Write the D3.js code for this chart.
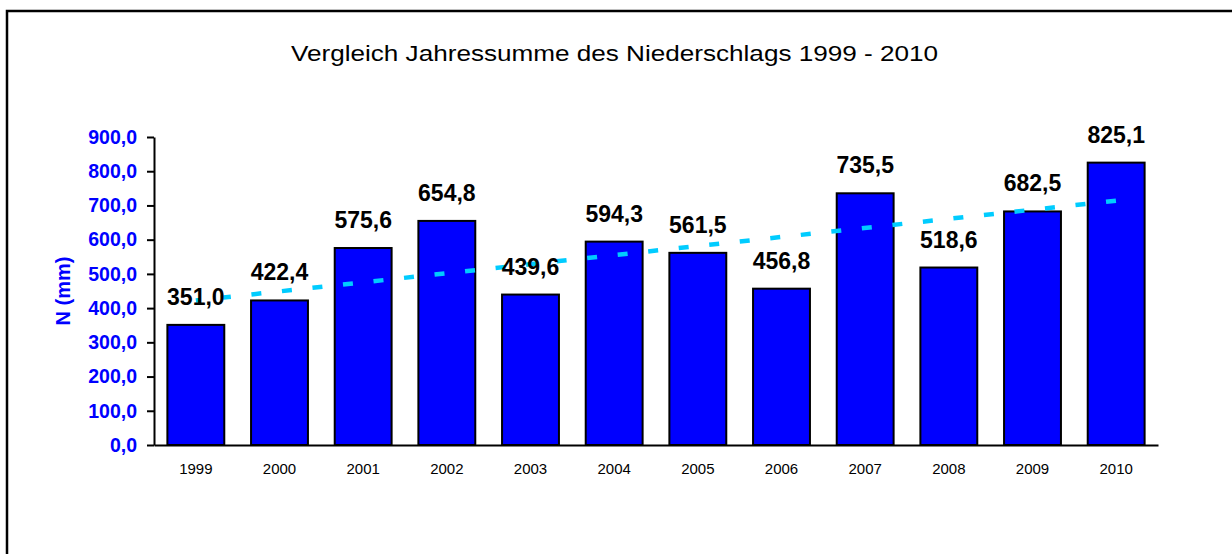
<!DOCTYPE html>
<html>
<head>
<meta charset="utf-8">
<script src="https://cdn.jsdelivr.net/npm/d3@7"></script>
<style>
	body { margin: 0; background: white; }
	svg { display: block; font-family: "Liberation Sans", Arial, sans-serif; }
</style>
</head>
<body>
<div id="chartDiv"></div>
<script>
const w = 1232
const h = 554

// Data
const years = ["1999", "2000", "2001", "2002", "2003", "2004", "2005", "2006", "2007", "2008", "2009", "2010"]
const rainfall = [351.0, 422.4, 575.6, 654.8, 439.6, 594.3, 561.5, 456.8, 735.5, 518.6, 682.5, 825.1]
const yTicks = [0, 100, 200, 300, 400, 500, 600, 700, 800, 900]
const title = "Vergleich Jahressumme des Niederschlags 1999 - 2010"
const yLabel = "N (mm)"

const plot = { left: 154, right: 1158, top: 137, bottom: 445 }
const fmt = v => v.toFixed(1).replace(".", ",")

let svg = d3.select("#chartDiv")
	.append("svg")
	.attr("width", w)
	.attr("height", h)

// outer frame (right and bottom edge lie outside the window)
svg.append("rect")
	.attr("x", 7)
	.attr("y", 11)
	.attr("width", w + 20)
	.attr("height", h + 20)
	.attr("fill", "white")
	.attr("stroke", "black")
	.attr("stroke-width", 2.5)

svg.append("text")
	.attr("x", 614.5)
	.attr("y", 61)
	.attr("text-anchor", "middle")
	.attr("font-size", 22.5)
	.attr("textLength", 647)
	.attr("lengthAdjust", "spacingAndGlyphs")
	.text(title)

let xScale = d3.scaleBand()
	.domain(years)
	.range([plot.left, plot.right])
	.paddingInner(0.32)
	.paddingOuter(0.16)

let yScale = d3.scaleLinear()
	.domain([0, 900])
	.range([plot.bottom, plot.top])

// y axis
let yAxis = d3.axisLeft(yScale)
	.tickValues(yTicks)
	.tickSize(7)
	.tickSizeOuter(0)
	.tickPadding(10)
	.tickFormat(fmt)

let yg = svg.append("g")
	.attr("transform", "translate(" + plot.left + ", 0)")
	.call(yAxis)

yg.select(".domain").attr("stroke-width", 2).attr("stroke", "black")
yg.selectAll(".tick line").attr("stroke-width", 2).attr("stroke", "black")
yg.selectAll(".tick text")
	.attr("font-family", "'Liberation Sans', Arial, sans-serif")
	.attr("font-size", 19.5)
	.attr("font-weight", "bold")
	.attr("fill", "#0000ff")

svg.append("text")
	.attr("transform", "translate(70, " + ((plot.top + plot.bottom) / 2) + ") rotate(-90)")
	.attr("text-anchor", "middle")
	.attr("font-size", 20)
	.attr("font-weight", "bold")
	.attr("fill", "#0000ff")
	.text(yLabel)

// bars
let data = years.map((y, i) => ({ year: y, value: rainfall[i] }))

svg.selectAll("rect.bar")
	.data(data)
	.enter()
	.append("rect")
	.attr("class", "bar")
	.attr("x", d => xScale(d.year))
	.attr("y", d => yScale(d.value))
	.attr("width", xScale.bandwidth())
	.attr("height", d => yScale(0) - yScale(d.value))
	.attr("fill", "#0000ff")
	.attr("stroke", "black")
	.attr("stroke-width", 2)

// x axis
let xAxis = d3.axisBottom(xScale)
	.tickSize(0)
	.tickSizeOuter(0)
	.tickPadding(18)

let xg = svg.append("g")
	.attr("transform", "translate(0, " + plot.bottom + ")")
	.call(xAxis)

xg.select(".domain").attr("stroke-width", 2).attr("stroke", "black")
xg.selectAll(".tick text")
	.attr("font-family", "'Liberation Sans', Arial, sans-serif")
	.attr("font-size", 15)
	.attr("fill", "black")

// linear trend line
let n = rainfall.length
let mx = (n - 1) / 2
let my = d3.mean(rainfall)
let slope = d3.sum(rainfall, (v, i) => (i - mx) * (v - my)) / d3.sum(rainfall, (v, i) => (i - mx) * (i - mx))
let trend = years.map((y, i) => ({ year: y, value: my + slope * (i - mx) }))
let trendEnds = [trend[0], trend[n - 1]]

let line = d3.line()
	.x(d => xScale(d.year) + xScale.bandwidth() / 2)
	.y(d => yScale(d.value))

svg.append("path")
	.datum(trendEnds)
	.attr("d", line)
	.attr("fill", "none")
	.attr("stroke", "#00ccff")
	.attr("stroke-width", 4.5)
	.attr("stroke-dasharray", "10,20.7")
	.attr("stroke-dashoffset", 5.5)

// value labels
svg.selectAll("text.value")
	.data(data)
	.enter()
	.append("text")
	.attr("class", "value")
	.attr("x", d => xScale(d.year) + xScale.bandwidth() / 2)
	.attr("y", d => yScale(d.value) - 20)
	.attr("text-anchor", "middle")
	.attr("font-size", 23)
	.attr("font-weight", "bold")
	.attr("fill", "black")
	.text(d => fmt(d.value))
</script>
</body>
</html>
